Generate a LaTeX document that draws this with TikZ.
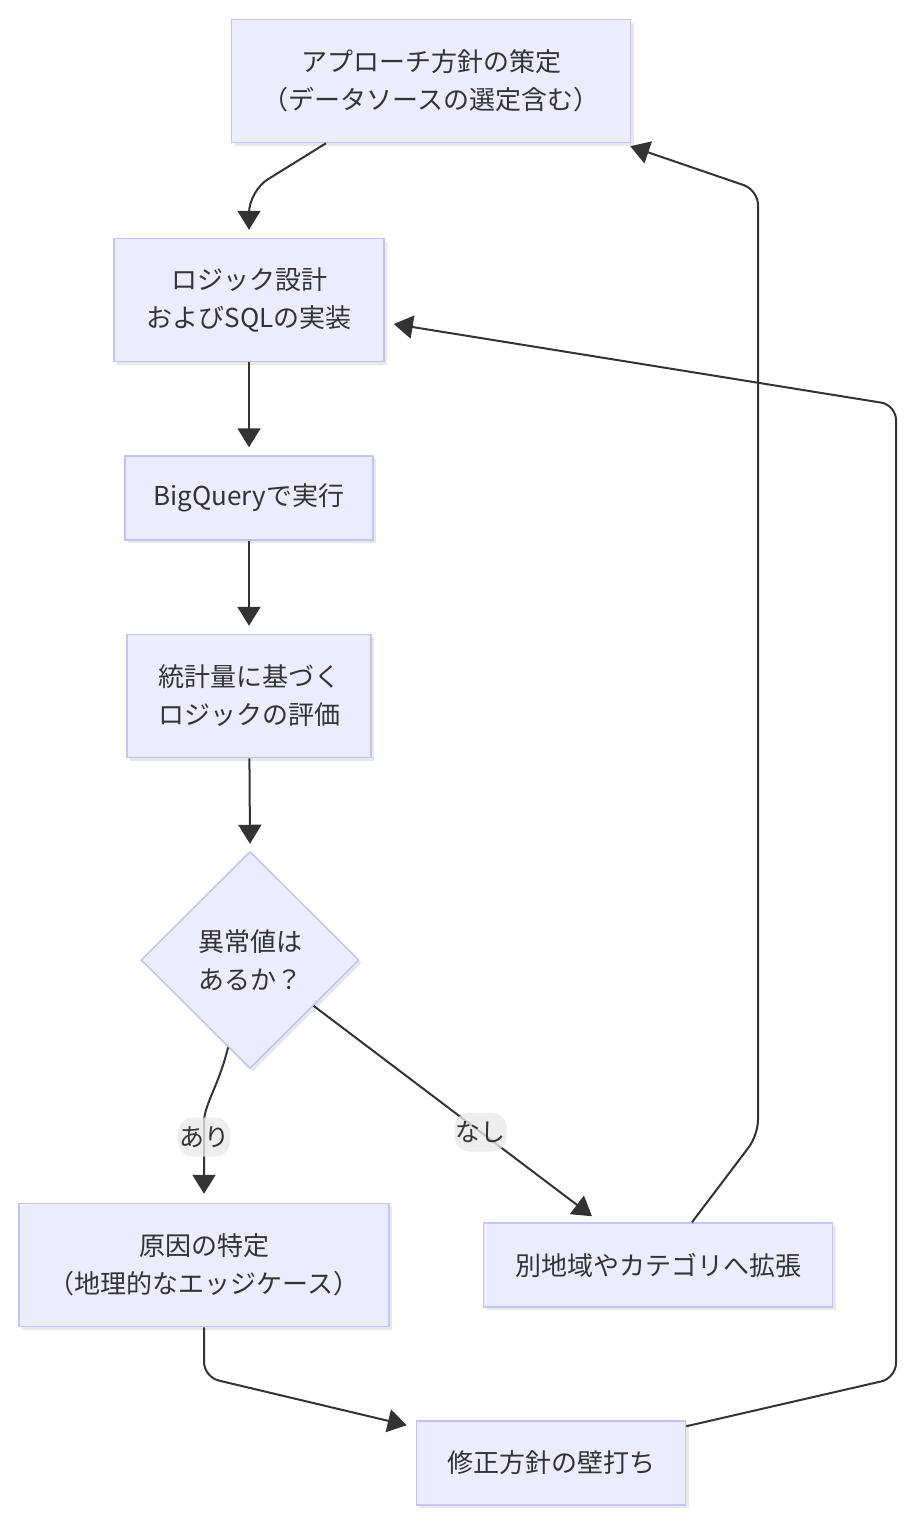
\documentclass[tikz,border=0pt]{standalone}
\usepackage{fontspec}
\setmainfont{Noto Sans CJK JP}
\usetikzlibrary{arrows.meta,shapes.geometric,shadows,calc}
\definecolor{boxfill}{HTML}{ECECFF}
\definecolor{boxline}{HTML}{C3C3F5}
\definecolor{ink}{HTML}{333333}
\definecolor{lblfill}{HTML}{E8E8E8}
\begin{document}
\begin{tikzpicture}[x=1pt, y=-1pt,
    procbox/.style={rectangle, fill=boxfill, draw=boxline, line width=1.5pt, text=ink, align=center, inner sep=0pt,
        font=\fontsize{26}{38}\selectfont, drop shadow={shadow xshift=3pt, shadow yshift=-3pt, opacity=0.18}},
    decision/.style={procbox, diamond, minimum width=218pt, minimum height=217pt},
    lbl/.style={fill=lblfill, fill opacity=0.8, text opacity=1, text=ink, font=\fontsize{25}{30}\selectfont,
        inner xsep=1pt, inner ysep=0pt, minimum height=39pt},
    flow/.style={draw=ink, line width=2pt, -{Triangle[length=19pt, width=23pt]}, rounded corners=15pt}]
    \useasboundingbox (0,0) rectangle (918,1526);

    \begin{scope}[every node/.style={procbox}]
        \node [minimum width=399pt, minimum height=123pt] (1) at (431,81) {アプローチ方針の策定\\（データソースの選定含む）};
        \node [minimum width=270pt, minimum height=123pt] (2) at (249,300) {ロジック設計\\およびSQLの実装};
        \node [minimum width=248pt, minimum height=84pt] (3) at (249,498) {BigQueryで実行};
        \node [minimum width=244pt, minimum height=123pt] (4) at (249,696) {統計量に基づく\\ロジックの評価};
        \node [minimum width=370pt, minimum height=123pt] (6) at (204,1265) {原因の特定\\（地理的なエッジケース）};
        \node [minimum width=349pt, minimum height=84pt] (7) at (658,1265) {別地域やカテゴリへ拡張};
        \node [minimum width=269pt, minimum height=84pt] (8) at (551,1463) {修正方針の壁打ち};
    \end{scope}
    \node [decision] (5) at (250,960) {異常値は\\あるか？};

    \begin{scope}[flow]
        \draw [rounded corners=22pt] ([xshift=-105pt]1.south) -- (249,191) -- ([yshift=8pt]2.north);
        \draw (2) -- ([yshift=8pt]3.north);
        \draw (3) -- ([yshift=8pt]4.north);
        \draw (4) -- ([yshift=7pt]5.north);
        \draw ($(5.south)!0.2!(5.west)$) .. controls (219,1085) and (204,1105) .. (204,1137) node [lbl] {あり} -- ([yshift=9pt]6.north);
        \draw ($(5.east)!0.42!(5.south)$) -- node [lbl, pos=0.6] {なし} ([xshift=-66pt, yshift=6pt]7.north);
        \draw ([xshift=34pt]7.north) -- (758,1135) -- (758,190) -- ([shift={(-1pt,-3pt)}]1.south east);
        \draw (6.south) -- (204,1377) -- ([shift={(-9pt,-5pt)}]8.north west);
        \draw ([yshift=-6pt]8.north east) -- (896,1378) -- (896,405) -- ([shift={(9pt,-24pt)}]2.east);
    \end{scope}
\end{tikzpicture}
\end{document}
